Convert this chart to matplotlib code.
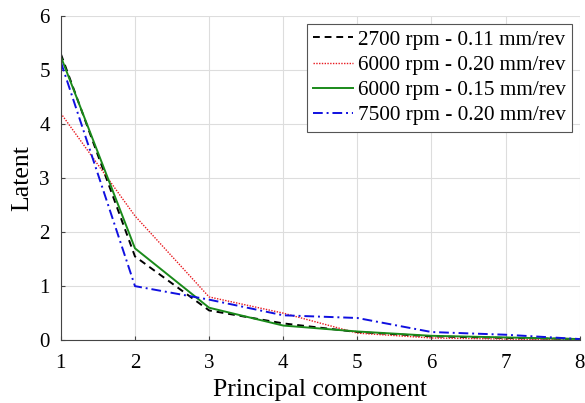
import numpy as np
import matplotlib
matplotlib.use('Agg')
import matplotlib.pyplot as plt

# Principal component index and latent values per cutting condition
components = [1, 2, 3, 4, 5, 6, 7, 8]
latent_2700_011 = [5.3, 1.55, 0.55, 0.31, 0.15, 0.07, 0.04, 0.02]
latent_6000_020 = [4.2, 2.3, 0.8, 0.5, 0.13, 0.04, 0.02, 0.0]
latent_6000_015 = [5.25, 1.7, 0.6, 0.27, 0.16, 0.08, 0.05, 0.02]
latent_7500_020 = [5.15, 1.0, 0.75, 0.46, 0.41, 0.15, 0.1, 0.02]
labels = ['2700 rpm - 0.11 mm/rev', '6000 rpm - 0.20 mm/rev',
          '6000 rpm - 0.15 mm/rev', '7500 rpm - 0.20 mm/rev']

plt.rcParams['font.family'] = ['Liberation Serif', 'DejaVu Serif']

fig = plt.figure(figsize=(5.85, 4.03), dpi=100)
ax = fig.add_axes([0.104, 0.156, 0.887, 0.804])

ax.plot(components, latent_2700_011, color='black', linestyle=(0, (3.5, 2.5)), lw=1.4, label=labels[0])
ax.plot(components, latent_6000_020, color='#e8191f', linestyle=(0, (1, 1)), lw=1.0, label=labels[1])
ax.plot(components, latent_6000_015, color='#1a8a1a', linestyle='-', lw=1.4, label=labels[2])
ax.plot(components, latent_7500_020, color='#1010e0', linestyle=(0, (5, 2, 1, 2)), lw=1.4, label=labels[3])

ax.set_xlim(1, 8)
ax.set_ylim(0, 6)
ax.set_xticks(components)
ax.set_yticks(range(0, 7))
ax.grid(True, color='#dddddd', lw=0.8)
ax.set_axisbelow(True)
for s in ['top', 'right']:
    ax.spines[s].set_visible(False)
for s in ['left', 'bottom']:
    ax.spines[s].set_color('#444444')
ax.tick_params(labelsize=15, direction='in', length=3, color='#444444')
ax.tick_params(axis='x', pad=10)
ax.tick_params(axis='y', pad=8)
ax.set_xlabel('Principal component', fontsize=18.5, labelpad=4)
ax.set_ylabel('Latent', fontsize=18.5, labelpad=4)

leg = ax.legend(loc='upper right', fontsize=15.3, handlelength=1.85, handletextpad=0.25,
                labelspacing=0.25, borderpad=0.3, fancybox=False, framealpha=1,
                edgecolor='#555555', borderaxespad=0.35)
leg.get_frame().set_linewidth(0.8)

fig.savefig('out.png', dpi=100)
